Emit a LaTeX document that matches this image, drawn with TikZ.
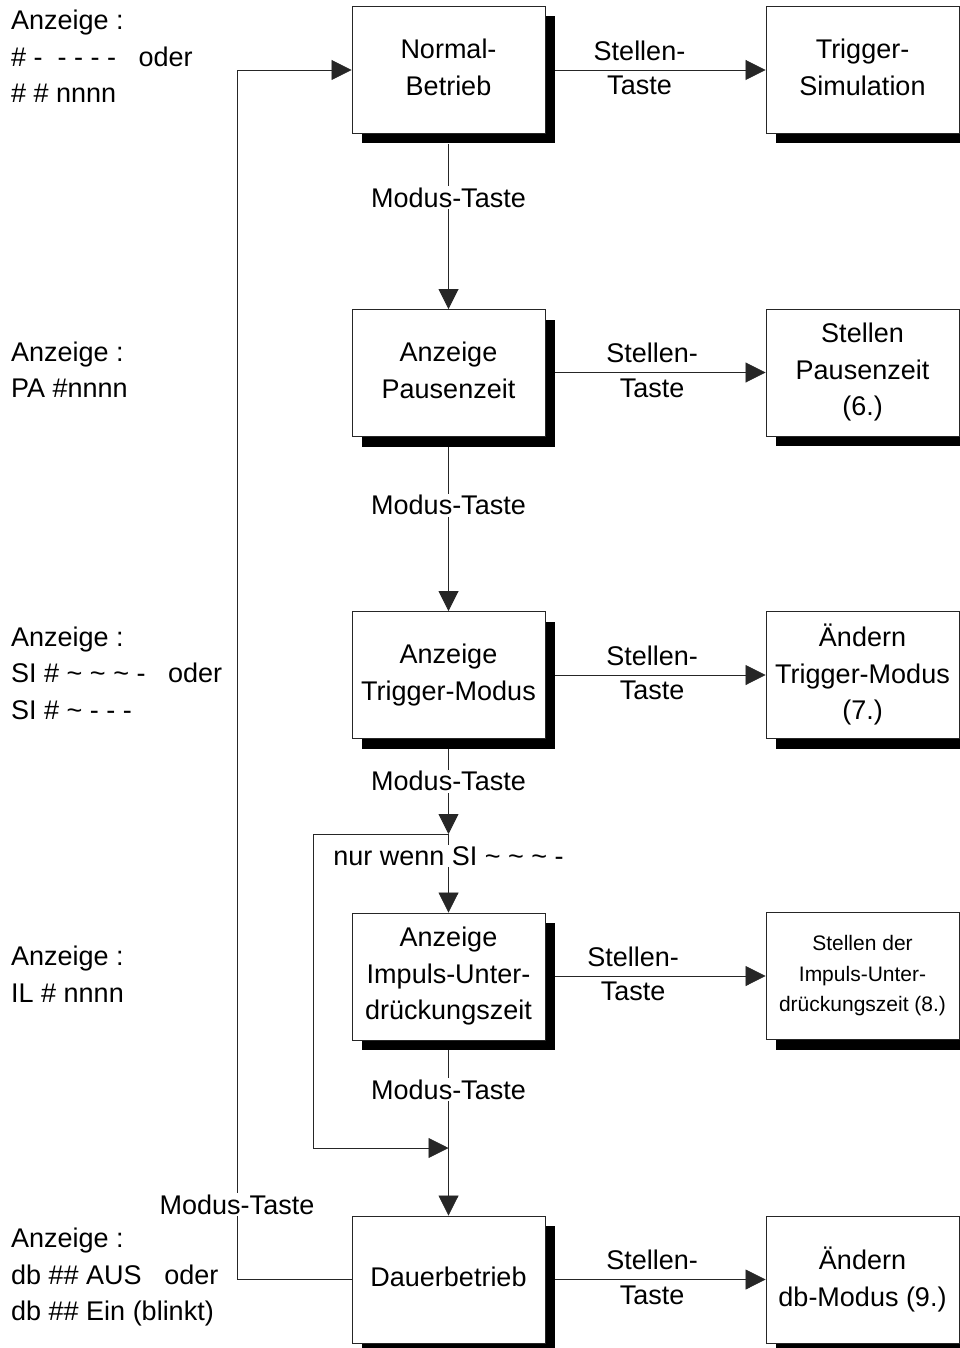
\documentclass[tikz,border=0pt]{standalone}
\usepackage{fontspec}
\setmainfont{Liberation Sans}
\usetikzlibrary{arrows.meta}

\begin{document}
\begin{tikzpicture}[x=1pt,y=-1pt,
  every node/.style={font=\fontsize{27}{36.5}\selectfont},
  box/.style={draw=black!85, line width=0.9pt, fill=white,
    minimum width=193pt, minimum height=127pt, align=center, inner sep=0pt,
    text depth=5.7pt,
    preaction={fill=black, transform canvas={shift={(10pt,-10pt)}}}},
  smallbox/.style={box, font=\fontsize{21}{30.5}\selectfont, text depth=4.4pt},
  conn/.style={draw=black!85, line width=0.8pt,
    -{Triangle[length=20pt,width=20pt]}},
  plain/.style={draw=black!85, line width=0.8pt},
  lbl/.style={fill=white, inner sep=1.5pt},
  keyup/.style={above=9pt, inner sep=0pt},
  keydown/.style={below=6pt, inner sep=0pt},
  info/.style={anchor=west, align=left, inner sep=0pt}
]
\clip (0,0) rectangle (960,1348);
\fill[white] (0,0) rectangle (960,1348);

% left column: display contents
\node[info] (d1) at (11,56.5) {Anzeige :\\\# -\ \ - - - -\ \ \ oder\\\# \# nnnn};
\node[info] (d2) at (11,369.5) {Anzeige :\\PA \#nnnn};
\node[info] (d3) at (11,673) {Anzeige :\\SI \# \textasciitilde{} \textasciitilde{} \textasciitilde{} -\ \ \ oder\\SI \# \textasciitilde{} - - -};
\node[info] (d4) at (11,974) {Anzeige :\\IL \# nnnn};
\node[info] (d5) at (11,1277) {Anzeige :\\db \#\# AUS\ \ \ oder\\db \#\# Ein (blinkt)};

% main states
\node[box] (n1) at (448.5,70) {Normal-\\Betrieb};
\node[box] (n2) at (448.5,373) {Anzeige\\Pausenzeit};
\node[box] (n3) at (448.5,675) {Anzeige\\Trigger-Modus};
\node[box] (n4) at (448.5,976.5) {Anzeige\\Impuls-Unter-\\drückungszeit};
\node[box] (n5) at (448.5,1279.5) {Dauerbetrieb};

% setting states
\node[box] (t1) at (862.5,70) {Trigger-\\Simulation};
\node[box] (t2) at (862.5,372.5) {Stellen\\Pausenzeit\\(6.)};
\node[box] (t3) at (862.5,675) {Ändern\\Trigger-Modus\\(7.)};
\node[smallbox] (t4) at (862.5,976) {Stellen der\\Impuls-Unter-\\drückungszeit (8.)};
\node[box] (t5) at (862.5,1279.5) {Ändern\\db-Modus (9.)};

% branch points
\coordinate (j1) at (448.5,834);
\coordinate (j2) at (448.5,1148);
\coordinate (c1) at (313,834);
\coordinate (c2) at (313,1148);
\coordinate (f1) at (237,1279.5);
\coordinate (f2) at (237,70);

% mode key chain
\draw[conn] ([yshift=-10pt]n1.south) -- node[lbl,pos=0.325] {Modus-Taste} (n2.north);
\draw[conn] ([yshift=-10pt]n2.south) -- node[lbl,pos=0.355] {Modus-Taste} (n3.north);
\draw[conn] ([yshift=-10pt]n3.south) -- node[lbl,pos=0.38] {Modus-Taste} (j1);
\draw[conn] (j1) -- node[lbl,pos=0.28] {nur wenn SI \textasciitilde{} \textasciitilde{} \textasciitilde{} -} (n4.north);
\draw[plain] ([yshift=-10pt]n4.south) -- node[lbl,pos=0.4] {Modus-Taste} (j2);
\draw[conn] (j1) -- (c1) -- (c2) -- (j2);
\draw[conn] (j2) -- (n5.north);
\draw[conn] (n5.west) -- (f1) -- node[lbl,pos=0.062] {Modus-Taste} (f2) -- (n1.west);

% set key transitions
\draw[conn] ([xshift=10pt]n1.east) -- node[pos=0.40,keyup] {Stellen-} node[pos=0.40,keydown] {Taste} (t1.west);
\draw[conn] ([xshift=10pt]n2.east |- t2.west) -- node[pos=0.46,keyup] {Stellen-} node[pos=0.46,keydown] {Taste} (t2.west);
\draw[conn] ([xshift=10pt]n3.east) -- node[pos=0.46,keyup] {Stellen-} node[pos=0.46,keydown] {Taste} (t3.west);
\draw[conn] ([xshift=10pt]n4.east |- t4.west) -- node[pos=0.37,keyup] {Stellen-} node[pos=0.37,keydown] {Taste} (t4.west);
\draw[conn] ([xshift=10pt]n5.east) -- node[pos=0.46,keyup] {Stellen-} node[pos=0.46,keydown] {Taste} (t5.west);
\end{tikzpicture}
\end{document}
